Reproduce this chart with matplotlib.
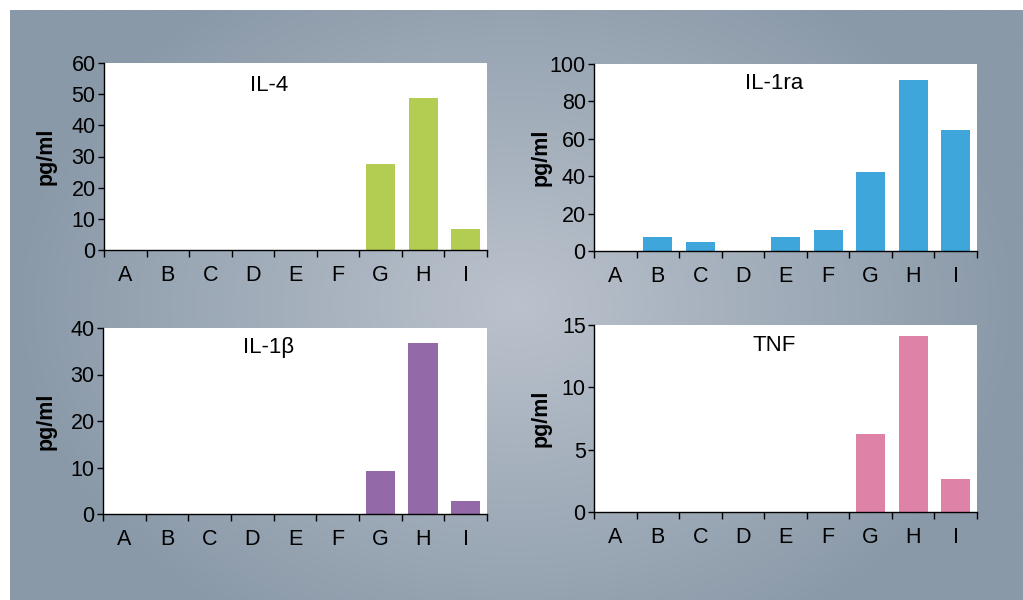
import matplotlib
matplotlib.use("Agg")
import matplotlib.pyplot as plt
import numpy as np

plt.rcParams['font.family'] = ['Liberation Sans', 'DejaVu Sans']

groups = ['A', 'B', 'C', 'D', 'E', 'F', 'G', 'H', 'I']

il4 = [0, 0, 0, 0, 0, 0, 27.6, 48.8, 6.8]
il1ra = [0, 7.3, 4.6, 0, 7.3, 11.0, 42.2, 91.4, 64.7]
il1b = [0, 0, 0, 0, 0, 0, 9.3, 36.8, 2.9]
tnf = [0, 0, 0, 0, 0, 0, 6.26, 14.15, 2.65]

panels = [
    ('IL-4', il4, '#b3cc52', 60, 10, [104, 63, 383, 187], 0.43, 0.88, -0.123),
    ('IL-1ra', il1ra, '#3ea6db', 100, 20, [594, 64, 383, 187], 0.47, 0.895, -0.112),
    ('IL-1β', il1b, '#9469a7', 40, 10, [103, 328, 384, 186], 0.43, 0.895, -0.12),
    ('TNF', tnf, '#df82a7', 15, 5, [594, 325, 383, 187], 0.47, 0.89, -0.112),
]

W, H = 1023, 600
fig = plt.figure(figsize=(W / 100, H / 100), dpi=100)
fig.patch.set_facecolor('white')

# grey backdrop, lighter towards the middle
bg = fig.add_axes([10 / W, 0, (W - 10) / W, (H - 10) / H])
yy, xx = np.mgrid[-1:1:300j, -1:1:500j]
r = np.clip(np.sqrt((xx / 1.0) ** 2 + (yy / 1.3) ** 2), 0, 1)
inner = np.array([0.73, 0.76, 0.80])
outer = np.array([0.54, 0.60, 0.66])
img = inner[None, None, :] * (1 - r[..., None]) + outer[None, None, :] * r[..., None]
bg.imshow(img, aspect='auto', extent=[0, 1, 0, 1], interpolation='bilinear')
bg.axis('off')

x = np.arange(len(groups))
for name, vals, color, ymax, step, (px, py, pw, ph), tx, ty, lx in panels:
    ax = fig.add_axes([px / W, 1 - (py + ph) / H, pw / W, ph / H])
    ax.set_facecolor('white')
    ax.bar(x, vals, width=0.68, color=color, zorder=2)
    ax.set_xlim(-0.5, len(groups) - 0.5)
    ax.set_ylim(0, ymax)
    ax.set_yticks(np.arange(0, ymax + 0.1, step))
    ax.set_xticks(x)
    ax.set_xticklabels(groups)
    ax.set_xticks(np.arange(-0.5, len(groups)), minor=True)
    ax.tick_params(axis='x', which='major', length=0, pad=11, labelsize=15.5)
    ax.tick_params(axis='x', which='minor', length=5, width=1, direction='out')
    ax.tick_params(axis='y', length=4, width=1, pad=2, labelsize=15.5)
    for s in ['top', 'right']:
        ax.spines[s].set_visible(False)
    for s in ['left', 'bottom']:
        ax.spines[s].set_linewidth(1)
        ax.spines[s].set_color('black')
    ax.set_ylabel('pg/ml', fontsize=15.5, fontweight='bold')
    ax.yaxis.set_label_coords(lx, 0.5)
    ax.text(tx, ty, name, transform=ax.transAxes, ha='center', va='center', fontsize=16)

fig.savefig('out.png', dpi=100)
